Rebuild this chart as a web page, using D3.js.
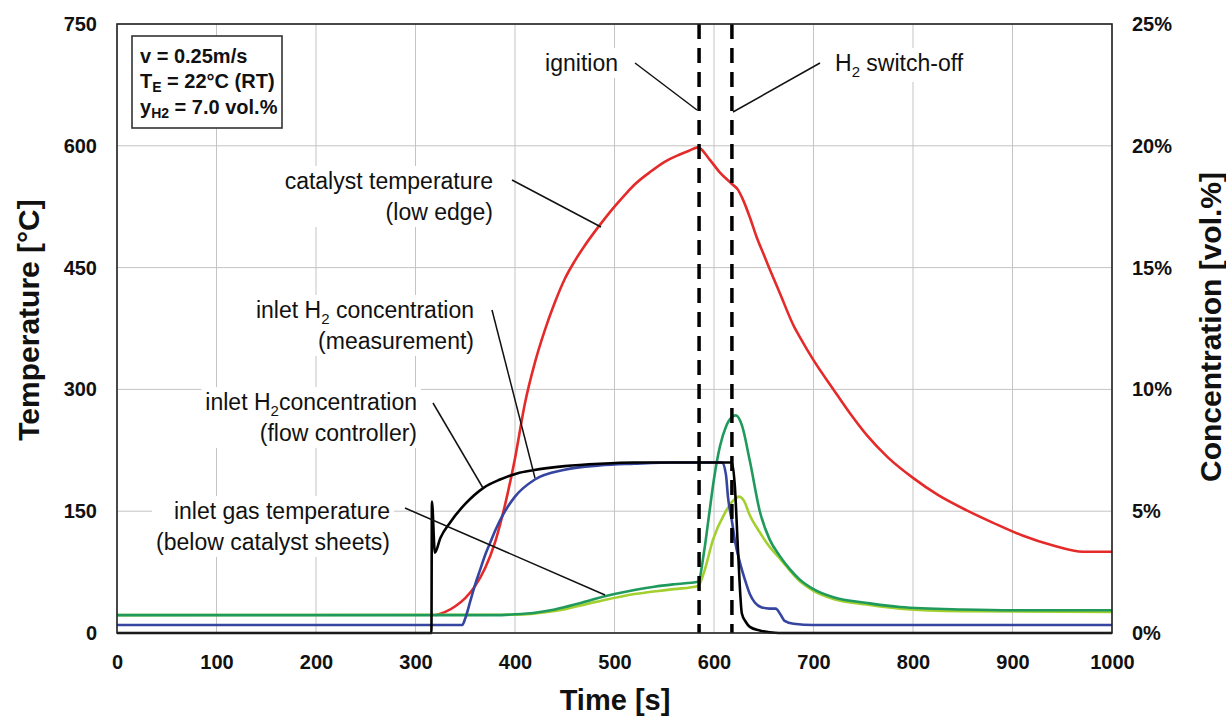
<!DOCTYPE html>
<html>
<head>
<meta charset="utf-8">
<script src="https://cdn.jsdelivr.net/npm/d3@7"></script>
<style>
  body { margin: 0; background: #fff; }
  svg { font-family: "Liberation Sans", Arial, sans-serif; }
</style>
</head>
<body>
<div id="chart"></div>
<script>
// data: time [s] / value
var catalystTemp = [[320,22],[330,26],[340,33],[350,43],[360,58],[370,80],[380,112],[390,158],[400,215],[410,283],[420,333],[430,373],[440,407],[450,436],[460,458],[470,477],[480,494],[490,510],[500,525],[510,539],[520,552],[535,567],[550,580],[565,589],[575,594],[584,598],[595,584],[606,567],[618,553],[624,546],[629,534],[636,512],[643,487],[650,466],[656,448],[666,419],[681,376],[686,365],[700,336],[720,300],[737,270],[754,243],[775,216],[800,191],[825,170],[854,151],[880,136],[910,120],[940,108],[971,100],[1000,100]];
var gasTempA = [[0,22],[380,22],[400,23],[420,25],[440,29],[460,35],[480,42],[500,48],[520,53],[540,57],[560,60],[584,63],[590,100],[595,145],[600,190],[606,230],[612,254],[618,266],[622,268],[628,256],[636,212],[646,150],[656,115],[666,95],[676,79],[686,66],[700,54],[720,44],[754,37],[787,32],[850,29],[900,28],[1000,28]];
var gasTempB = [[0,22],[400,22.5],[440,27],[480,38],[520,48],[560,54],[584,58],[590,75],[599,115],[611,148],[620,164],[625,168],[630,163],[636,145],[646,124],[656,106],[666,92],[686,64],[700,52],[720,42],[754,35],[787,30],[850,27],[1000,26]];
var h2Measured = [[0,0.33],[347,0.33],[350,0.6],[355,1.3],[360,2.0],[365,2.6],[370,3.2],[375,3.7],[380,4.2],[390,5.0],[400,5.6],[420,6.3],[450,6.7],[485,6.88],[520,6.95],[560,7.0],[608,7.0],[612,6.5],[614,5.6],[618,4.6],[621,3.8],[626,2.9],[631,2.2],[636,1.6],[641,1.25],[648,1.05],[656,1.0],[662,1.0],[667,0.75],[671,0.5],[680,0.38],[700,0.33],[1000,0.33]];
var h2Controller = [[0,0],[316,0],[316.5,5.4],[319.5,3.3],[325,3.9],[335,4.55],[350,5.3],[368,5.95],[385,6.3],[402,6.55],[418,6.68],[450,6.85],[485,6.95],[520,7.0],[618,7.0],[621,6.0],[624,3.5],[628,0.8],[632,0.45],[636,0.25],[646,0.1],[656,0.03],[665,0],[1000,0]];

var xTicks = [0,100,200,300,400,500,600,700,800,900,1000];
var tempTicks = [0,150,300,450,600,750];
var concTicks = [0,5,10,15,20,25];
var eventTimes = [585, 618];

var svgwidth = 1226, svgheight = 716;
var margin = {top: 24, right: 114, bottom: 83, left: 117};
var width = svgwidth - margin.left - margin.right;
var height = svgheight - margin.top - margin.bottom;

var svg = d3.select("#chart").append("svg")
    .attr("width", svgwidth)
    .attr("height", svgheight);

var g = svg.append("g")
    .attr("transform", `translate(${margin.left}, ${margin.top})`);

var x = d3.scaleLinear().domain([0, 1000]).range([0, width]);
var yT = d3.scaleLinear().domain([0, 750]).range([height, 0]);
var yC = d3.scaleLinear().domain([0, 25]).range([height, 0]);

// grid
g.append("g").selectAll("line").data(xTicks).join("line")
    .attr("x1", d => x(d)).attr("x2", d => x(d))
    .attr("y1", 0).attr("y2", height)
    .attr("stroke", "#c4c4c4").attr("stroke-width", 1);
g.append("g").selectAll("line").data(tempTicks).join("line")
    .attr("x1", 0).attr("x2", width)
    .attr("y1", d => yT(d)).attr("y2", d => yT(d))
    .attr("stroke", "#c4c4c4").attr("stroke-width", 1);

// axes
var bottomAxis = d3.axisBottom(x).tickValues(xTicks).tickSize(0).tickPadding(22).tickFormat(d3.format("d"));
var leftAxis = d3.axisLeft(yT).tickValues(tempTicks).tickSize(0).tickPadding(20);
var rightAxis = d3.axisRight(yC).tickValues(concTicks).tickSize(0).tickPadding(20).tickFormat(d => d + "%");

[g.append("g").attr("transform", `translate(0, ${height})`).call(bottomAxis),
 g.append("g").call(leftAxis),
 g.append("g").attr("transform", `translate(${width}, 0)`).call(rightAxis)].forEach(function(ax) {
    ax.select(".domain").remove();
    ax.selectAll("text").attr("font-size", 20).attr("font-weight", "bold")
        .attr("fill", "#111").attr("font-family", "Liberation Sans, Arial, sans-serif");
});

// annotation layer (labels get white backgrounds over grid)
var ann = g.append("g");

function label(xp, yp, lines, anchor) {
    var t = ann.append("text").attr("font-size", 23).attr("fill", "#111").attr("text-anchor", anchor || "end");
    lines.forEach(function(parts, i) {
        var line = t.append("tspan").attr("x", xp).attr("y", yp + i * 31);
        var shift = 0;
        parts.forEach(function(p) {
            if (typeof p === "string") {
                line.append("tspan").attr("dy", -shift).text(p);
                shift = 0;
            } else {
                line.append("tspan").attr("font-size", 15).attr("dy", 6).text(p.sub);
                shift = 6;
            }
        });
    });
    var bb = t.node().getBBox();
    ann.insert("rect", "text").attr("x", bb.x - 4).attr("y", bb.y - 2)
        .attr("width", bb.width + 8).attr("height", bb.height + 4).attr("fill", "#fff");
    return t;
}

function leader(x1, y1, x2, y2) {
    ann.append("line").attr("x1", x1).attr("y1", y1).attr("x2", x2).attr("y2", y2)
        .attr("stroke", "#111").attr("stroke-width", 1.5);
}

// curves
var lineT = d3.line().x(d => x(d[0])).y(d => yT(d[1])).curve(d3.curveMonotoneX);
var lineC = d3.line().x(d => x(d[0])).y(d => yC(d[1])).curve(d3.curveMonotoneX);

var curves = g.append("g").attr("fill", "none").attr("stroke-width", 2.6).attr("stroke-linejoin", "round");
curves.append("path").datum(catalystTemp).attr("d", lineT).attr("stroke", "#e52a2a");
curves.append("path").datum(gasTempB).attr("d", lineT).attr("stroke", "#a3cf2f");
curves.append("path").datum(gasTempA).attr("d", lineT).attr("stroke", "#1f9a5c");
curves.append("path").datum(h2Measured).attr("d", lineC).attr("stroke", "#3545a0");
curves.append("path").datum(h2Controller).attr("d", lineC).attr("stroke", "#000");

// ignition / switch-off markers
g.append("g").selectAll("line").data(eventTimes).join("line")
    .attr("x1", d => x(d)).attr("x2", d => x(d))
    .attr("y1", 0).attr("y2", height)
    .attr("stroke", "#000").attr("stroke-width", 3.5).attr("stroke-dasharray", "15,9");

// labels in page coordinates (shifted by margin)
var ox = margin.left, oy = margin.top;
label(493 - ox, 189 - oy, [["catalyst temperature"], ["(low edge)"]]);
leader(512 - ox, 180 - oy, 601 - ox, 227 - oy);
label(474 - ox, 318 - oy, [["inlet H", {sub: "2"}, " concentration"], ["(measurement)"]]);
leader(492 - ox, 310 - oy, 535 - ox, 478 - oy);
label(417 - ox, 410 - oy, [["inlet H", {sub: "2"}, "concentration"], ["(flow controller)"]]);
leader(433 - ox, 403 - oy, 483 - ox, 488 - oy);
label(390 - ox, 519 - oy, [["inlet gas temperature"], ["(below catalyst sheets)"]]);
ann.raise();
leader(405 - ox, 508 - oy, 605 - ox, 595 - oy);
label(618 - ox, 71 - oy, [["ignition"]]);
leader(635 - ox, 63 - oy, 697 - ox, 110 - oy);
label(835 - ox, 71 - oy, [["H", {sub: "2"}, " switch-off"]], "start");
leader(820 - ox, 63 - oy, 733 - ox, 112 - oy);

// frame
g.append("rect").attr("width", width).attr("height", height)
    .attr("fill", "none").attr("stroke", "#222").attr("stroke-width", 1.6);

// info box
var box = g.append("g");
box.append("rect").attr("x", 132 - ox).attr("y", 36 - oy).attr("width", 150).attr("height", 92)
    .attr("fill", "#fff").attr("stroke", "#333").attr("stroke-width", 1.6);
var info = box.append("text").attr("font-size", 20).attr("font-weight", "bold").attr("fill", "#111");
info.append("tspan").attr("x", 140 - ox).attr("y", 63 - oy).text("v = 0.25m/s");
var l2 = info.append("tspan").attr("x", 140 - ox).attr("y", 88 - oy);
l2.append("tspan").text("T");
l2.append("tspan").attr("font-size", 14).attr("dy", 4).text("E");
l2.append("tspan").attr("dy", -4).text(" = 22°C (RT)");
var l3 = info.append("tspan").attr("x", 140 - ox).attr("y", 114 - oy);
l3.append("tspan").text("y");
l3.append("tspan").attr("font-size", 14).attr("dy", 4).text("H2");
l3.append("tspan").attr("dy", -4).text(" = 7.0 vol.%");

// axis titles
svg.append("text").attr("x", 615).attr("y", 710).attr("text-anchor", "middle")
    .attr("font-size", 29).attr("font-weight", "bold").attr("fill", "#111").text("Time [s]");
svg.append("text").attr("transform", "translate(39, 320) rotate(-90)").attr("text-anchor", "middle")
    .attr("font-size", 30).attr("font-weight", "bold").attr("fill", "#111").text("Temperature [°C]");
svg.append("text").attr("transform", "translate(1221, 327) rotate(-90)").attr("text-anchor", "middle")
    .attr("font-size", 30).attr("font-weight", "bold").attr("fill", "#111").text("Concentration [vol.%]");
</script>
</body>
</html>
